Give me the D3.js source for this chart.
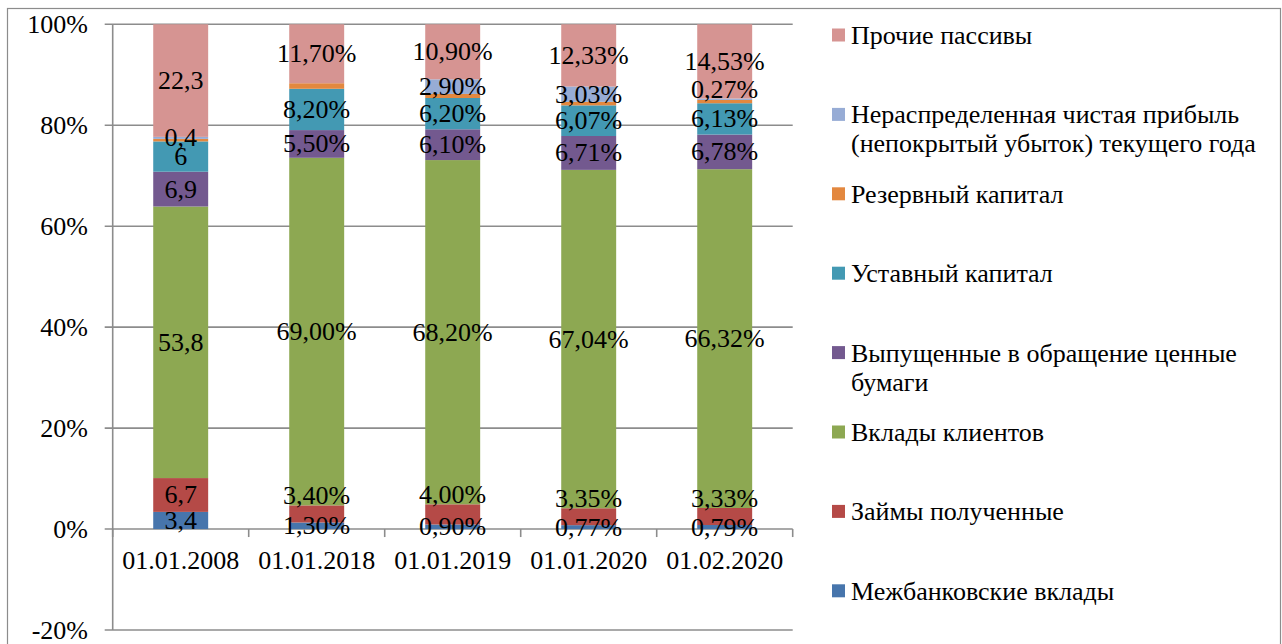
<!DOCTYPE html>
<html>
<head>
<meta charset="utf-8">
<script src="https://cdn.jsdelivr.net/npm/d3@7"></script>
<style>
  html, body { margin: 0; padding: 0; background: #fff; }
  svg { display: block; }
  .t { font-family: "Liberation Serif", "Times New Roman", serif; }
</style>
</head>
<body>
<svg id="chart" width="1282" height="644"></svg>
<script>
// ---- data ----
const categories = ["01.01.2008", "01.01.2018", "01.01.2019", "01.01.2020", "01.02.2020"];
const seriesNames = [
  "Межбанковские вклады",
  "Займы полученные",
  "Вклады клиентов",
  "Выпущенные в обращение ценные бумаги",
  "Уставный капитал",
  "Резервный капитал",
  "Нераспределенная чистая прибыль (непокрытый убыток) текущего года",
  "Прочие пассивы"
];
const interbank   = [3.4, 1.30, 0.90, 0.77, 0.79];
const loans       = [6.7, 3.40, 4.00, 3.35, 3.33];
const deposits    = [53.8, 69.00, 68.20, 67.04, 66.32];
const securities  = [6.9, 5.50, 6.10, 6.71, 6.78];
const authorized  = [6, 8.20, 6.20, 6.07, 6.13];
const reserve     = [0.5, 1.1, 0.8, 0.7, 0.65];
const retained    = [0.4, 0, 2.90, 3.03, 0.27];
const other       = [22.3, 11.70, 10.90, 12.33, 14.53];
const yTicks = [-0.2, 0, 0.2, 0.4, 0.6, 0.8, 1.0];
const labelFormat = ["general", "percent", "percent", "percent", "percent"];
const labeledSeries = [true, true, true, true, true, false, true, true];

const seriesValues = [interbank, loans, deposits, securities, authorized, reserve, retained, other];
const colors = ["#4775AC", "#B54A47", "#8DA852", "#73598F", "#4399B3", "#E3883F", "#97ACD5", "#D69492"];

// ---- layout ----
const svg = d3.select("#chart");
const plot = { left: 112.7, right: 792.7, top: 24.3, bottom: 630 };
const FONT = 26;
const gridColor = "#8c8c8c";

svg.append("rect")
  .attr("x", 7.5).attr("y", 8.5)
  .attr("width", 1273).attr("height", 700)
  .attr("fill", "none").attr("stroke", "#8c8c8c").attr("stroke-width", 1.2);

const table = categories.map((c, i) => {
  const row = { cat: c, idx: i };
  seriesNames.forEach((s, k) => row[s] = seriesValues[k][i]);
  return row;
});
const stacked = d3.stack().keys(seriesNames).offset(d3.stackOffsetExpand)(table);

const x = d3.scaleBand().domain(categories)
  .range([plot.left, plot.right])
  .paddingInner(0.596).paddingOuter(0.298);
const y = d3.scaleLinear().domain([-0.2, 1]).range([plot.bottom, plot.top]);

function txt(sel) {
  return sel.attr("class", "t").attr("font-size", FONT).attr("fill", "#000");
}

// gridlines
svg.append("g").selectAll("line").data(yTicks).join("line")
  .attr("x1", plot.left - 8).attr("x2", plot.right)
  .attr("y1", d => y(d)).attr("y2", d => y(d))
  .attr("stroke", gridColor).attr("stroke-width", 1.6);

// y axis
svg.append("line")
  .attr("x1", plot.left).attr("x2", plot.left)
  .attr("y1", plot.top).attr("y2", plot.bottom)
  .attr("stroke", gridColor).attr("stroke-width", 1.6);

const yFmt = d => Math.round(d * 100) + "%";
svg.append("g").selectAll("text").data(yTicks).join("text")
  .call(txt)
  .attr("x", 88).attr("y", d => y(d))
  .attr("text-anchor", "end").attr("dominant-baseline", "central")
  .text(yFmt);

// bars
const gBars = svg.append("g");
stacked.forEach((layer, k) => {
  gBars.append("g").attr("fill", colors[k])
    .selectAll("rect").data(layer).join("rect")
    .attr("x", d => x(d.data.cat))
    .attr("width", x.bandwidth())
    .attr("y", d => y(d[1]))
    .attr("height", d => Math.max(0, y(d[0]) - y(d[1])));
});

// x axis tick marks
const xTickPos = d3.range(categories.length + 1).map(i => plot.left + i * x.step());
svg.append("g").selectAll("line").data(xTickPos).join("line")
  .attr("x1", d => d).attr("x2", d => d)
  .attr("y1", y(0)).attr("y2", y(0) + 8)
  .attr("stroke", gridColor).attr("stroke-width", 1.6);

// category labels
svg.append("g").selectAll("text").data(categories).join("text")
  .call(txt)
  .attr("x", d => x(d) + x.bandwidth() / 2)
  .attr("y", 560)
  .attr("text-anchor", "middle").attr("dominant-baseline", "central")
  .text(d => d);

// data labels
function fmtLabel(v, i) {
  if (labelFormat[i] === "general") return String(v).replace(".", ",");
  return v.toFixed(2).replace(".", ",") + "%";
}
const gLab = svg.append("g");
stacked.forEach((layer, k) => {
  if (!labeledSeries[k]) return;
  layer.forEach((d, i) => {
    const v = seriesValues[k][i];
    if (!v) return;
    const top = y(d[1]), bot = y(d[0]);
    let cy = (top + bot) / 2;
    if (labelFormat[i] === "percent") {
      if (seriesNames[k] === "Займы полученные") cy = top - 10;
      if (seriesNames[k].startsWith("Нераспределенная") && v < 1) cy = top - 9;
    }
    gLab.append("text").call(txt)
      .attr("x", x(d.data.cat) + x.bandwidth() / 2)
      .attr("y", cy)
      .attr("text-anchor", "middle").attr("dominant-baseline", "central")
      .text(fmtLabel(v, i));
  });
});

// legend (reverse order)
const legend = svg.append("g");
const legendOrder = seriesNames.map((s, k) => k).reverse();
const legX = 832, legTextX = 851, legY0 = 35, legStep = 79.4, legMaxW = 425;
legendOrder.forEach((k, j) => {
  const cy = legY0 + j * legStep;
  legend.append("rect")
    .attr("x", legX).attr("y", cy - 6.5)
    .attr("width", 13).attr("height", 13)
    .attr("fill", colors[k]);
  const t = legend.append("text").call(txt)
    .attr("x", legTextX).attr("y", cy)
    .attr("dominant-baseline", "central");
  const words = seriesNames[k].split(" ");
  let line = [];
  let tspan = t.append("tspan").attr("x", legTextX).attr("dy", 0);
  words.forEach(w => {
    line.push(w);
    tspan.text(line.join(" "));
    if (tspan.node().getComputedTextLength() > legMaxW && line.length > 1) {
      line.pop();
      tspan.text(line.join(" "));
      line = [w];
      tspan = t.append("tspan").attr("x", legTextX).attr("dy", 29).text(w);
    }
  });
});
</script>
</body>
</html>
